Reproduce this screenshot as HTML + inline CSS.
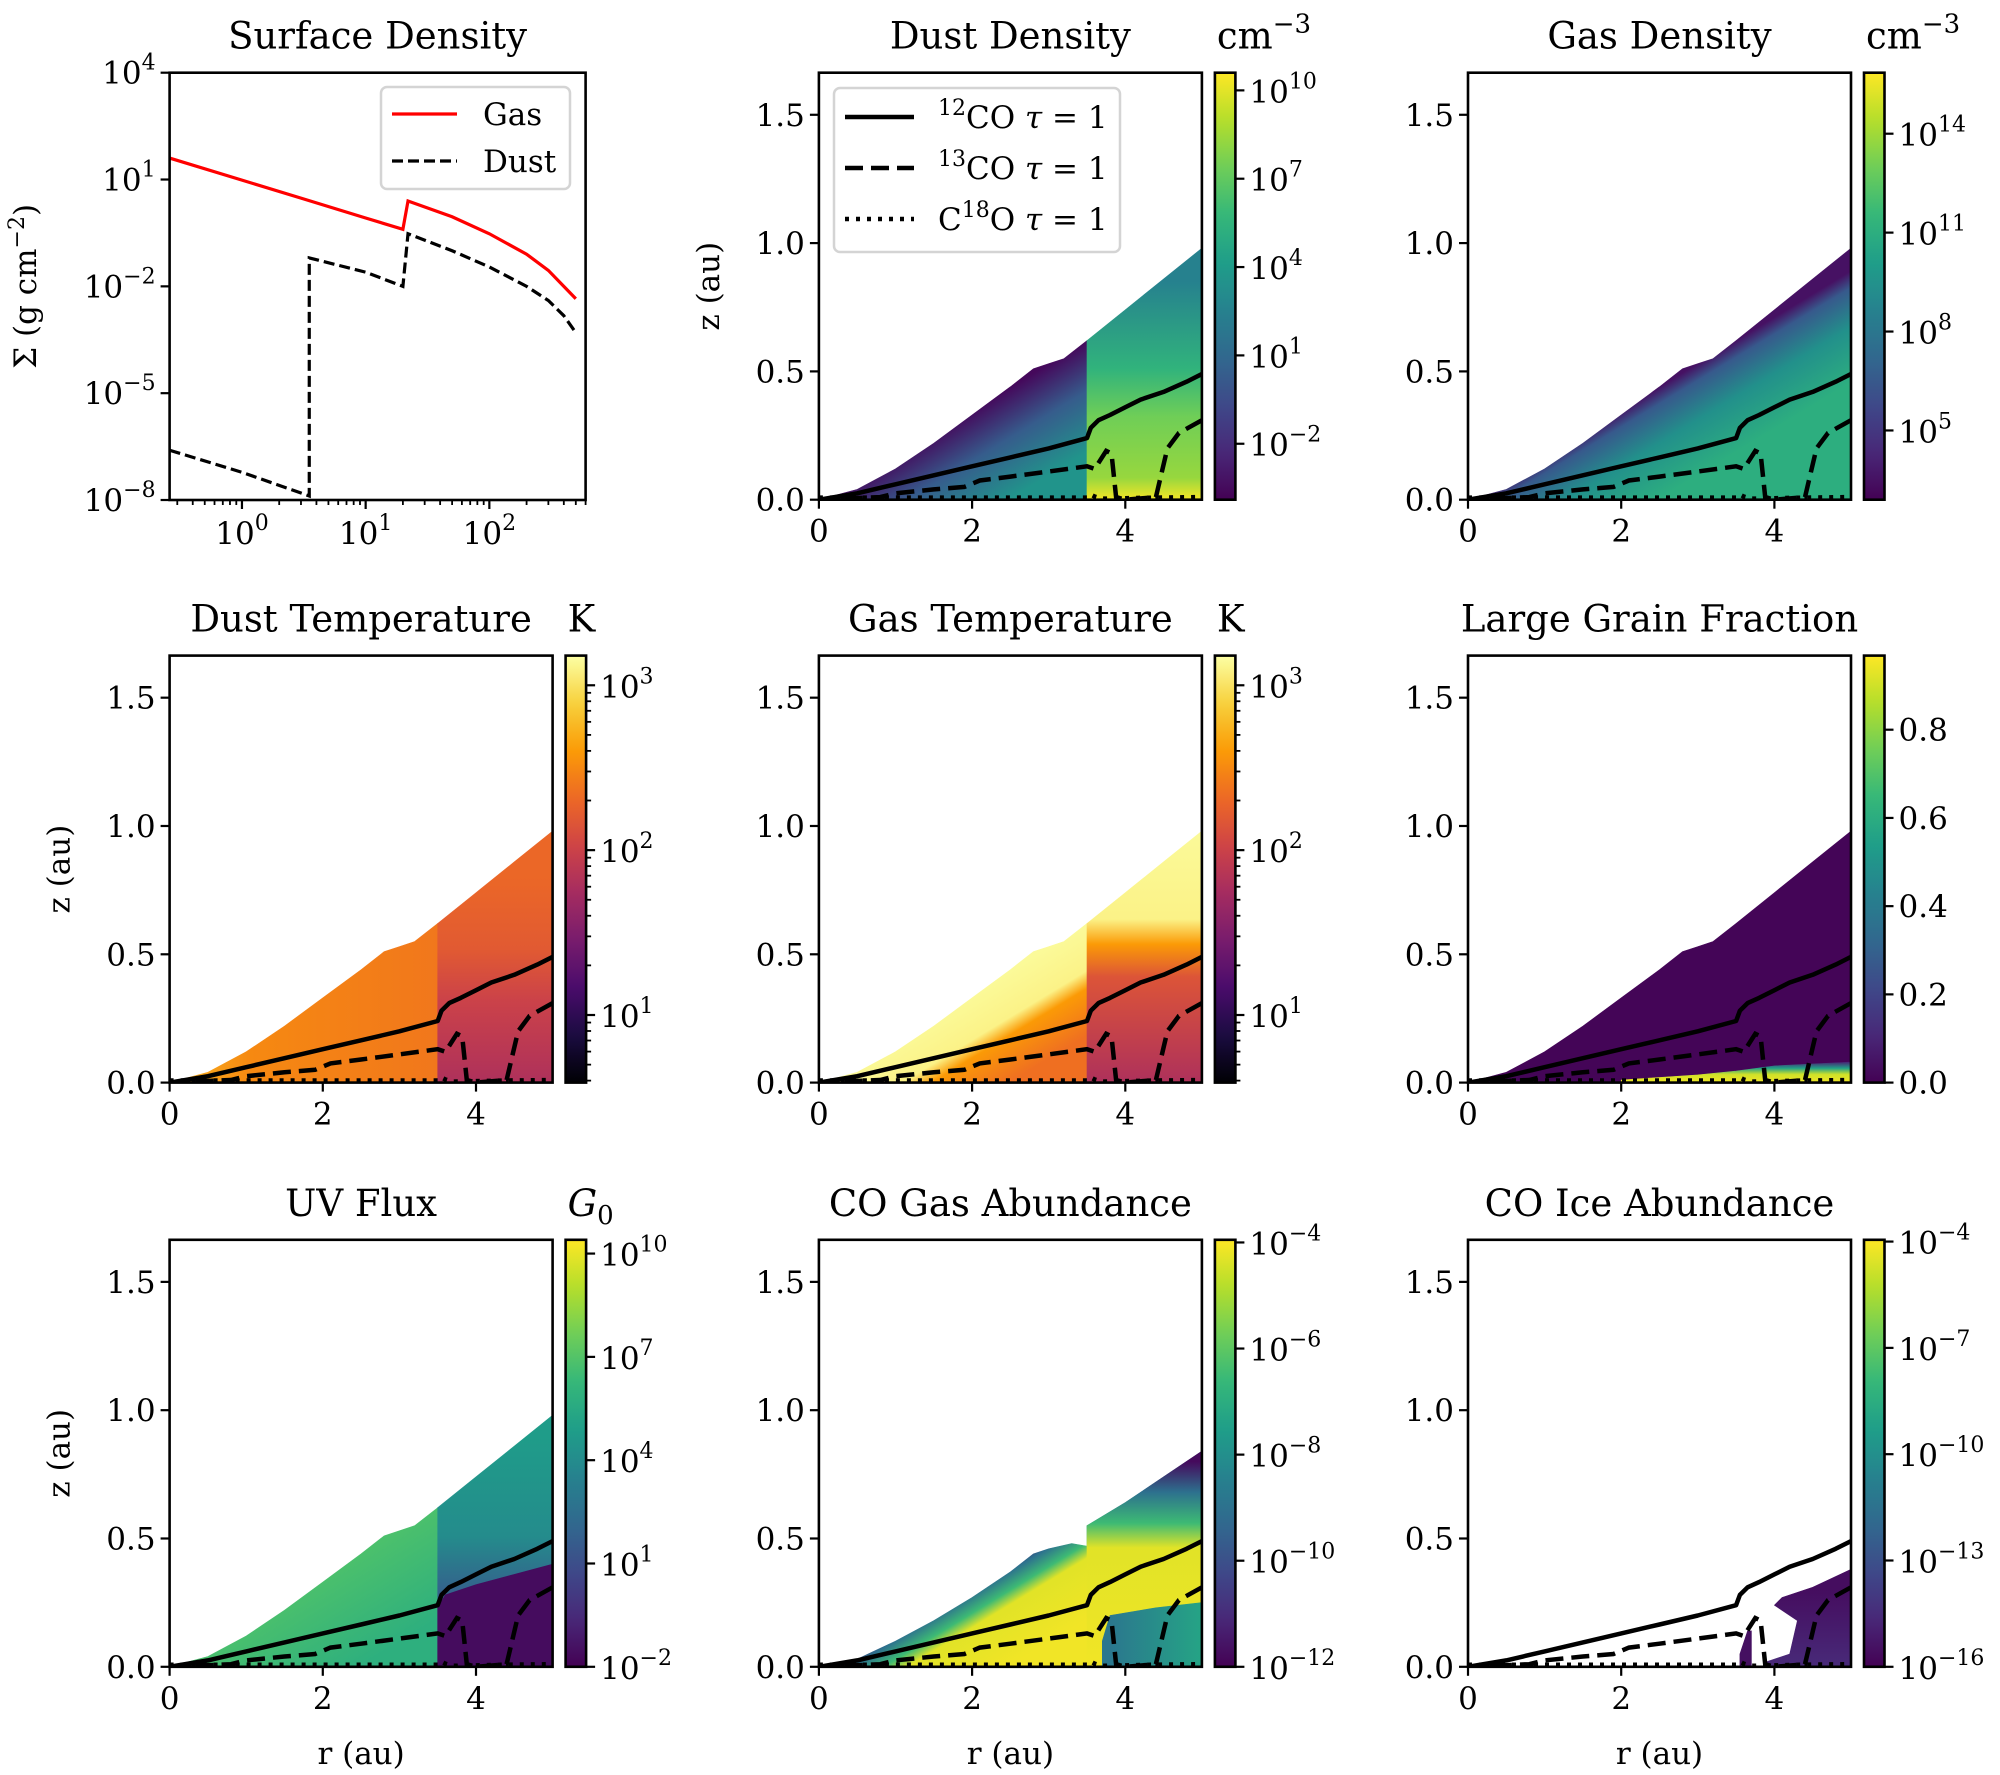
<!DOCTYPE html>
<html><head><meta charset="utf-8"><style>
html,body{margin:0;padding:0;background:#fff;}
svg text{font-family:"DejaVu Serif","Liberation Serif",serif;fill:#000;}
</style></head><body>
<svg id="fig" xmlns="http://www.w3.org/2000/svg" width="2000" height="1770" viewBox="0 0 2000 1770"></svg>
<script>
// ---------- data ----------
const sdGasR=[0.26,1,3,10,20,22,50,100,200,300,400,500];
const sdGasS=[40,9.6,3.0,0.83,0.40,2.5,0.9,0.3,0.08,0.028,0.01,0.0045];
const sdDustR=[0.26,1,3.5,3.5,10,20,22,50,100,200,300,400,500];
const sdDustS=[2.5e-7,6e-8,1.3e-8,0.063,0.025,0.01,0.3,0.1,0.035,0.01,0.004,0.0015,0.0005];
const sdXTicks=[1,10,100];
const sdXTickLabels=['0','1','2'];
const sdYTicks=[1e4,10,1e-2,1e-5,1e-8];
const sdYTickLabels=['4','1','−2','−5','−8'];

const diskR=[0,0.5,1,1.5,2,2.5,2.8,3.0,3.2,3.5,4,4.5,5];
const diskZ=[0,0.04,0.12,0.22,0.33,0.44,0.51,0.53,0.55,0.62,0.74,0.86,0.98];
const coGasR=[0,0.5,1,1.5,2,2.5,2.8,3.0,3.3,3.5,3.5,4,4.5,5];
const coGasZ=[0,0.03,0.1,0.18,0.27,0.37,0.44,0.46,0.48,0.47,0.55,0.64,0.74,0.84];
const co12R=[0,0.5,1,1.5,2,2.5,3,3.5,3.55,3.65,3.8,4,4.2,4.5,4.8,5];
const co12Z=[0,0.025,0.06,0.095,0.13,0.165,0.2,0.24,0.28,0.31,0.33,0.36,0.39,0.42,0.46,0.49];
const co13R=[0,0.8,1,1.5,1.9,2.1,2.5,3,3.5,3.6,3.75,3.82,3.88,4,4.4,4.55,4.7,5];
const co13Z=[0,0.01,0.025,0.04,0.05,0.075,0.09,0.11,0.13,0.12,0.19,0.18,0.01,0,0.01,0.2,0.26,0.31];
const c18R=[0,3.5,3.55,3.6,3.7,4.4,5];
const c18Z=[0.008,0.008,0.02,0.012,0.004,0.008,0.01];
const zTicks=[0,0.5,1.0,1.5];
const zTickLabels=['0.0','0.5','1.0','1.5'];
const rTicks=[0,2,4];
const rTickLabels=['0','2','4'];

// colorbar ranges and ticks
const cbDustDens=[-3.9,10.6], cbDustDensTicks=[-2,1,4,7,10];
const cbGasDens=[2.9,15.85], cbGasDensTicks=[5,8,11,14];
const cbTemp=[0.59,3.18], cbTempTicks=[1,2,3];
const cbGrain=[0,0.968], cbGrainTicks=[0,0.2,0.4,0.6,0.8];
const cbUV=[-2,10.4], cbUVTicks=[-2,1,4,7,10];
const cbCOg=[-12,-3.95], cbCOgTicks=[-12,-10,-8,-6,-4];
const cbCOi=[-16,-3.95], cbCOiTicks=[-16,-13,-10,-7,-4];

const viridis=['#440154','#482878','#3e4989','#31688e','#26828e','#1f9e89','#35b779','#6ece58','#b5de2b','#fde725'];
const inferno=['#000004','#1b0c41','#4a0c6b','#781c6d','#a52c60','#cf4446','#ed6925','#fb9b06','#f7d13d','#fcffa4'];

// ---------- helpers ----------
const NS='http://www.w3.org/2000/svg';
const svg=document.getElementById('fig');
function mk(tag,attrs,parent){const e=document.createElementNS(NS,tag);for(const k in attrs)e.setAttribute(k,attrs[k]);(parent||svg).appendChild(e);return e;}
function hex(c){return [parseInt(c.slice(1,3),16),parseInt(c.slice(3,5),16),parseInt(c.slice(5,7),16)];}
function cmap(map,t){t=Math.max(0,Math.min(1,t));const n=map.length-1;const i=Math.min(n-1,Math.floor(t*n));const f=t*n-i;const a=hex(map[i]),b=hex(map[i+1]);return 'rgb('+a.map((v,k)=>Math.round(v+(b[k]-v)*f)).join(',')+')';}
const defs=mk('defs',{});
let gid=0;

const COLL=[169.6,818.9,1468], ROWT=[72.7,655.6,1239.8], PW=383, PH=427, ZMAX=1.664, RMAX=5;
const FS=31;

function expLabel(parent,x,y,base,exp,anchor){
  const t=mk('text',{x:x,y:y,'font-size':FS,'text-anchor':anchor||'middle'},parent);
  t.appendChild(document.createTextNode(base));
  const s=mk('tspan',{dy:-14,'font-size':22},t);s.textContent=exp;
  return t;
}

function panel(col,row,opt){
  const L=COLL[col],T=ROWT[row];
  const g=mk('g',{});
  
  
  const X=r=>L+r/RMAX*PW, Y=z=>T+PH-z/ZMAX*PH;
  const cid='clip'+(gid++);
  const cp=mk('clipPath',{id:cid},defs);mk('rect',{x:L,y:T,width:PW,height:PH},cp);
  const lay=mk('g',{'clip-path':'url(#'+cid+')'},g);
  
  
  const cmapArr=opt.cmap, rng=opt.range;
  const norm=v=>(v-rng[0])/(rng[1]-rng[0]);
  function ptsStr(R,Z){return R.map((r,i)=>X(r).toFixed(1)+','+Y(Z[i]).toFixed(1)).join(' ');}
  function shape(s){
    if(s==='disk'){return ptsStr(diskR.concat([5]),diskZ.concat([0]));}
    if(s==='inner'){const R=[],Z=[];diskR.forEach((r,i)=>{if(r<=3.5){R.push(r);Z.push(diskZ[i]);}});R.push(3.5);Z.push(0);return ptsStr(R,Z);}
    if(s==='outer'){const R=[3.5],Z=[0];diskR.forEach((r,i)=>{if(r>=3.5){R.push(r);Z.push(diskZ[i]);}});R.push(5);Z.push(0);return ptsStr(R,Z);}
    return ptsStr(s.map(p=>p[0]),s.map(p=>p[1]));
  }
  opt.layers.forEach((ly,k)=>{
    let fill;
    if(ly.g){
      const id='lg'+(gid++);
      const lg=mk('linearGradient',{id:id,gradientUnits:'userSpaceOnUse',x1:X(ly.g[0]),y1:Y(ly.g[1]),x2:X(ly.g[2]),y2:Y(ly.g[3])},defs);
      ly.stops.forEach(s=>mk('stop',{offset:s[0],'stop-color':cmap(cmapArr,norm(s[1]))},lg));
      fill='url(#'+id+')';
    } else fill=cmap(cmapArr,norm(ly.v));
    const p=mk('polygon',{points:shape(ly.shape),fill:fill,stroke:fill,'stroke-width':0.6},lay);
    
    
  });
  const lc=opt.lineColor||'#000';
  const l1=mk('polyline',{points:ptsStr(co12R,co12Z),fill:'none',stroke:lc,'stroke-width':4.5,'stroke-linejoin':'round'},lay);
  
  
  const l2=mk('polyline',{points:ptsStr(co13R,co13Z),fill:'none',stroke:lc,'stroke-width':4.5,'stroke-dasharray':'18,8'},lay);
  
  
  const l3=mk('polyline',{points:ptsStr(c18R,c18Z),fill:'none',stroke:lc,'stroke-width':4.5,'stroke-dasharray':'4,7'},lay);
  
  
  const fr=mk('rect',{x:L,y:T,width:PW,height:PH,fill:'none',stroke:'#000','stroke-width':2.6},g);
  
  
  zTicks.forEach((z,i)=>{
    mk('line',{x1:L-9,x2:L,y1:Y(z),y2:Y(z),stroke:'#000','stroke-width':2.2},g);
    const t=mk('text',{x:L-14,y:Y(z)+11,'font-size':FS,'text-anchor':'end'},g);t.textContent=zTickLabels[i];
    
    
  });
  rTicks.forEach((r,i)=>{
    mk('line',{x1:X(r),x2:X(r),y1:T+PH,y2:T+PH+9,stroke:'#000','stroke-width':2.2},g);
    const t=mk('text',{x:X(r),y:T+PH+42,'font-size':FS,'text-anchor':'middle'},g);t.textContent=rTickLabels[i];
    
    
  });
  const ti=mk('text',{x:L+PW/2,y:T-24,'font-size':37,'text-anchor':'middle'},g);ti.textContent=opt.title;
  
  
  if(opt.ylabel){const t=mk('text',{x:0,y:0,'font-size':FS,'text-anchor':'middle',transform:'translate('+(L-100)+','+(T+PH/2)+') rotate(-90)'},g);t.textContent='z (au)';
    
    }
  if(opt.xlabel){const t=mk('text',{x:L+PW/2,y:1764,'font-size':FS,'text-anchor':'middle'},g);t.textContent='r (au)';
    
    }
  const cx=L+396, cw=20.5;
  const cbg=mk('g',{},g);
  
  
  const id='cb'+(gid++);
  const lg=mk('linearGradient',{id:id,x1:0,y1:1,x2:0,y2:0},defs);
  for(let i=0;i<=40;i++)mk('stop',{offset:i/40,'stop-color':cmap(cmapArr,i/40)},lg);
  mk('rect',{x:cx,y:T,width:cw,height:PH,fill:'url(#'+id+')',stroke:'#000','stroke-width':2.6},cbg);
  const CY=v=>T+PH-norm(v)*PH;
  if(opt.minor){
    for(let d=Math.floor(rng[0]);d<rng[1];d++)for(let m=2;m<10;m++){const v=d+Math.log10(m);if(v>rng[0]&&v<rng[1])mk('line',{x1:cx+cw,x2:cx+cw+5,y1:CY(v),y2:CY(v),stroke:'#000','stroke-width':1.8},cbg);}
  }
  opt.ticks.forEach(v=>{
    mk('line',{x1:cx+cw,x2:cx+cw+9,y1:CY(v),y2:CY(v),stroke:'#000','stroke-width':2.2},cbg);
    let t;
    if(opt.linear){t=mk('text',{x:cx+cw+14,y:CY(v)+11,'font-size':FS},cbg);t.textContent=v.toFixed(1);}
    else t=expLabel(cbg,cx+cw+14,CY(v)+12,'10',String(v).replace('-','−'),'start');
    
    
  });
  if(opt.unit){
    const t=mk('text',{x:cx+2,y:T-24,'font-size':37},cbg);
    if(opt.unit==='cm'){t.appendChild(document.createTextNode('cm'));const s=mk('tspan',{dy:-16,'font-size':26},t);s.textContent='−3';}
    else if(opt.unit==='G'){const a=mk('tspan',{'font-style':'italic'},t);a.textContent='G';const s=mk('tspan',{dy:8,'font-size':26},t);s.textContent='0';}
    else t.textContent=opt.unit;
    
    
  }
}

const NG=[2.5,0.44,3.15,0.12];

panel(1,0,{name:'dust-density',title:'Dust Density',cmap:viridis,range:cbDustDens,ticks:cbDustDensTicks,unit:'cm',ylabel:true,
  layers:[{shape:'inner',g:NG,stops:[[0,-3.6],[0.45,0.3],[1,3.6]]},
          {shape:'outer',g:[4,0.85,4,0],stops:[[0,2.5],[0.4,5.5],[0.62,7.4],[0.9,8.3],[1,10.4]]}]});
panel(2,0,{name:'gas-density',title:'Gas Density',cmap:viridis,range:cbGasDens,ticks:cbGasDensTicks,unit:'cm',
  layers:[{shape:'disk',g:NG,stops:[[0,3.5],[0.15,6.5],[0.5,9.4],[1,11.0]]}]});
panel(0,1,{name:'dust-temperature',title:'Dust Temperature',cmap:inferno,range:cbTemp,ticks:cbTempTicks,unit:'K',ylabel:true,minor:true,
  layers:[{shape:'inner',g:[0,0,3.5,0],stops:[[0,2.75],[0.3,2.5],[1,2.4]]},
          {shape:'outer',g:[4.3,0.8,4.3,0],stops:[[0,2.3],[0.35,2.2],[0.6,2.0],[1,1.8]]}]});
panel(1,1,{name:'gas-temperature',title:'Gas Temperature',cmap:inferno,range:cbTemp,ticks:cbTempTicks,unit:'K',minor:true,
  layers:[{shape:'inner',g:NG,stops:[[0,3.15],[0.42,3.1],[0.58,2.6],[1,2.35]]},
          {shape:'outer',g:[4.5,0.98,4.5,0],stops:[[0,3.15],[0.35,3.1],[0.45,2.6],[0.58,2.15],[1,1.8]]}]});
panel(2,1,{name:'large-grain-fraction',title:'Large Grain Fraction',cmap:viridis,range:cbGrain,ticks:cbGrainTicks,linear:true,
  layers:[{shape:'disk',v:0.01},
          {shape:[[2,0],[2,0.01],[3,0.03],[3.5,0.045],[4,0.065],[5,0.08],[5,0]],g:[4,0.08,4,0],stops:[[0,0.1],[0.3,0.55],[0.6,0.9],[1,0.95]]}]});
panel(0,2,{name:'uv-flux',title:'UV Flux',cmap:viridis,range:cbUV,ticks:cbUVTicks,unit:'G',ylabel:true,xlabel:true,
  layers:[{shape:'inner',g:NG,stops:[[0,6.8],[1,5.8]]},
          {shape:'outer',g:[4.5,0.9,4.5,0.25],stops:[[0,4.8],[0.6,4.0],[1,1.5]]},
          {shape:[[3.5,0],[3.5,0.23],[3.6,0.28],[3.8,0.3],[4,0.32],[4.5,0.36],[5,0.4],[5,0]],v:-1.6}]});
panel(1,2,{name:'co-gas-abundance',title:'CO Gas Abundance',cmap:viridis,range:cbCOg,ticks:cbCOgTicks,xlabel:true,
  layers:[{shape:coGasR.map((r,i)=>[r,coGasZ[i]]).concat([[5,0]]),g:NG,stops:[[0,-11.8],[0.15,-9],[0.32,-6.5],[0.45,-4.3],[1,-4.1]]},
          {shape:[[3.5,0],[3.5,0.55],[4,0.64],[4.5,0.74],[5,0.84],[5,0]],g:[4.5,0.8,4.5,0],stops:[[0,-11.8],[0.15,-9],[0.3,-6.5],[0.42,-4.3],[1,-4.1]]},
          {shape:[[3.7,0],[3.7,0.1],[3.8,0.2],[4.4,0.23],[5,0.25],[5,0]],g:[3.8,0,5,0],stops:[[0,-8.8],[1,-7.3]]}]});
panel(2,2,{name:'co-ice-abundance',title:'CO Ice Abundance',cmap:viridis,range:cbCOi,ticks:cbCOiTicks,xlabel:true,lineColor:'#000',
  layers:[{shape:[[3.9,0],[3.9,0.02],[4.2,0.05],[4.3,0.18],[4.0,0.24],[4.1,0.27],[4.5,0.31],[5,0.38],[5,0]],g:[4.5,0.3,4.5,0],stops:[[0,-15.6],[1,-14.6]]},
          {shape:[[3.55,0],[3.55,0.05],[3.65,0.14],[3.7,0.14],[3.7,0]],v:-15.5}]});

// ---------- Surface density panel ----------
(function(){
  const L=169.6,T=72.7,W=416,H=427.3;
  const lx0=Math.log10(0.26),lx1=Math.log10(600),ly0=-8,ly1=4;
  const X=r=>L+(Math.log10(r)-lx0)/(lx1-lx0)*W, Y=s=>T+H-(Math.log10(s)-ly0)/(ly1-ly0)*H;
  const g=mk('g',{});
  
  
  const cp=mk('clipPath',{id:'sdclip'},defs);mk('rect',{x:L,y:T,width:W,height:H},cp);
  const pl=mk('g',{'clip-path':'url(#sdclip)'},g);
  const gl=mk('polyline',{points:sdGasR.map((r,i)=>X(r)+','+Y(sdGasS[i])).join(' '),fill:'none',stroke:'#ff0000','stroke-width':3.2},pl);
  
  
  const dl=mk('polyline',{points:sdDustR.map((r,i)=>X(r)+','+Y(sdDustS[i])).join(' '),fill:'none',stroke:'#000','stroke-width':3.2,'stroke-dasharray':'11,5'},pl);
  
  
  mk('rect',{x:L,y:T,width:W,height:H,fill:'none',stroke:'#000','stroke-width':2.6},g);
  for(let d=-1;d<=2;d++)for(let m=1;m<10;m++){const r=m*Math.pow(10,d);const lr=Math.log10(r);if(lr<lx0||lr>lx1)continue;
    mk('line',{x1:X(r),x2:X(r),y1:T+H,y2:T+H+(m===1?9:5),stroke:'#000','stroke-width':m===1?2.2:1.8},g);}
  sdXTicks.forEach((r,i)=>{const t=expLabel(g,X(r),T+H+44,'10',sdXTickLabels[i]);
    
    });
  sdYTicks.forEach((s,i)=>{mk('line',{x1:L-9,x2:L,y1:Y(s),y2:Y(s),stroke:'#000','stroke-width':2.2},g);
    const t=expLabel(g,L-14,Y(s)+11,'10',sdYTickLabels[i],'end');
    
    });
  const ti=mk('text',{x:L+W/2,y:T-24,'font-size':37,'text-anchor':'middle'},g);ti.textContent='Surface Density';
  
  
  const yl=mk('text',{x:0,y:0,'font-size':FS,'text-anchor':'middle',transform:'translate(36,'+(T+H/2)+') rotate(-90)'},g);
  yl.appendChild(document.createTextNode('Σ (g cm'));const ys=mk('tspan',{dy:-12,'font-size':22},yl);ys.textContent='−2';
  const ye=mk('tspan',{dy:12},yl);ye.textContent=')';
  
  
  const lg=mk('g',{},g);
  
  
  mk('rect',{x:381,y:87,width:189,height:102,rx:6,fill:'#fff','fill-opacity':0.85,stroke:'#d4d4d4','stroke-width':2.5},lg);
  mk('line',{x1:392,x2:457,y1:114,y2:114,stroke:'#ff0000','stroke-width':3.2},lg);
  mk('line',{x1:392,x2:457,y1:161,y2:161,stroke:'#000','stroke-width':3.2,'stroke-dasharray':'11,5'},lg);
  const a=mk('text',{x:483,y:125,'font-size':FS},lg);a.textContent='Gas';
  const b=mk('text',{x:483,y:172,'font-size':FS},lg);b.textContent='Dust';
})();

// ---------- tau legend ----------
(function(){
  const lg=mk('g',{});
  
  
  mk('rect',{x:834,y:88,width:286,height:164,rx:6,fill:'#fff','fill-opacity':0.85,stroke:'#d4d4d4','stroke-width':2.5},lg);
  const ys=[117,168,219], da=['none','18,8','4,7'], iso=[['','12','CO'],['','13','CO'],['C','18','O']];
  ys.forEach((y,i)=>{
    mk('line',{x1:845,x2:914,y1:y,y2:y,stroke:'#000','stroke-width':4.5,'stroke-dasharray':da[i]},lg);
    const t=mk('text',{x:938,y:y+11,'font-size':FS},lg);
    if(iso[i][0])t.appendChild(document.createTextNode(iso[i][0]));
    const s=mk('tspan',{dy:-13,'font-size':22},t);s.textContent=iso[i][1];
    const r=mk('tspan',{dy:13},t);r.textContent=iso[i][2]+' ';
    const tau=mk('tspan',{'font-style':'italic'},t);tau.textContent='τ';
    const e=mk('tspan',{},t);e.textContent=' = 1';
  });
})();
</script>
</body></html>
